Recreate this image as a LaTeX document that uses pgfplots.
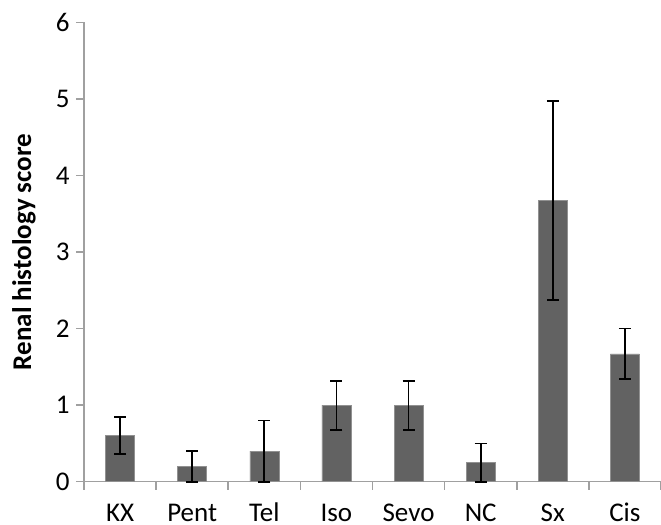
\documentclass[border=0pt]{standalone}
\usepackage{pgfplots}
\pgfplotsset{compat=1.18}
\usepackage{fontspec}
\setmainfont{Carlito}
\definecolor{barc}{RGB}{98,98,98}
\definecolor{axc}{RGB}{160,160,160}
\begin{document}
\begin{tikzpicture}
\useasboundingbox (-42pt,-21.65pt) rectangle (288.5pt,240.85pt);
\begin{axis}[
  at={(0,0)}, anchor=south west,
  scale only axis,
  width=288.5pt, height=229.7pt,
  xmin=-0.5, xmax=7.5,
  ymin=0, ymax=6,
  axis x line=bottom, axis y line=left,
  axis line style={axc, line width=0.8pt, -},
  xtick={-0.5,0.5,...,7.5},
  xticklabels={},
  extra x ticks={0,1,2,3,4,5,6,7},
  extra x tick labels={KX,Pent,Tel,Iso,Sevo,NC,Sx,Cis},
  extra x tick style={major tick length=0pt, tick label style={anchor=base, inner sep=0pt, yshift=-19.8pt}},
  ytick={0,1,2,3,4,5,6},
  tick style={axc, line width=0.8pt},
  tick align=outside,
  major tick length=4pt,
  tick label style={font=\fontsize{13.5}{15}\selectfont, text=black},
  /pgf/number format/assume math mode=true,
  yticklabel style={xshift=-6.6pt, anchor=center},
  ylabel={\textbf{Renal histology score}},
  ylabel style={font=\fontsize{13.5}{15}\selectfont, at={(axis description cs:0,0.5)}, anchor=center, yshift=30pt},
  clip=false,
]
\addplot[ybar, bar width=14.5pt, fill=barc, draw=barc!70!white, line width=0.3pt,
  error bars/.cd, y dir=both, y explicit,
  error bar style={black, line width=0.9pt},
  error mark options={black, line width=0.9pt, mark size=3pt, rotate=90}]
  coordinates {
  (0,0.6) +- (0,0.24)
  (1,0.2) +- (0,0.2)
  (2,0.4) +- (0,0.4)
  (3,1.0) +- (0,0.32)
  (4,1.0) +- (0,0.32)
  (5,0.25) +- (0,0.25)
  (6,3.67) +- (0,1.3)
  (7,1.67) +- (0,0.33)
  };
\end{axis}
\end{tikzpicture}
\end{document}
